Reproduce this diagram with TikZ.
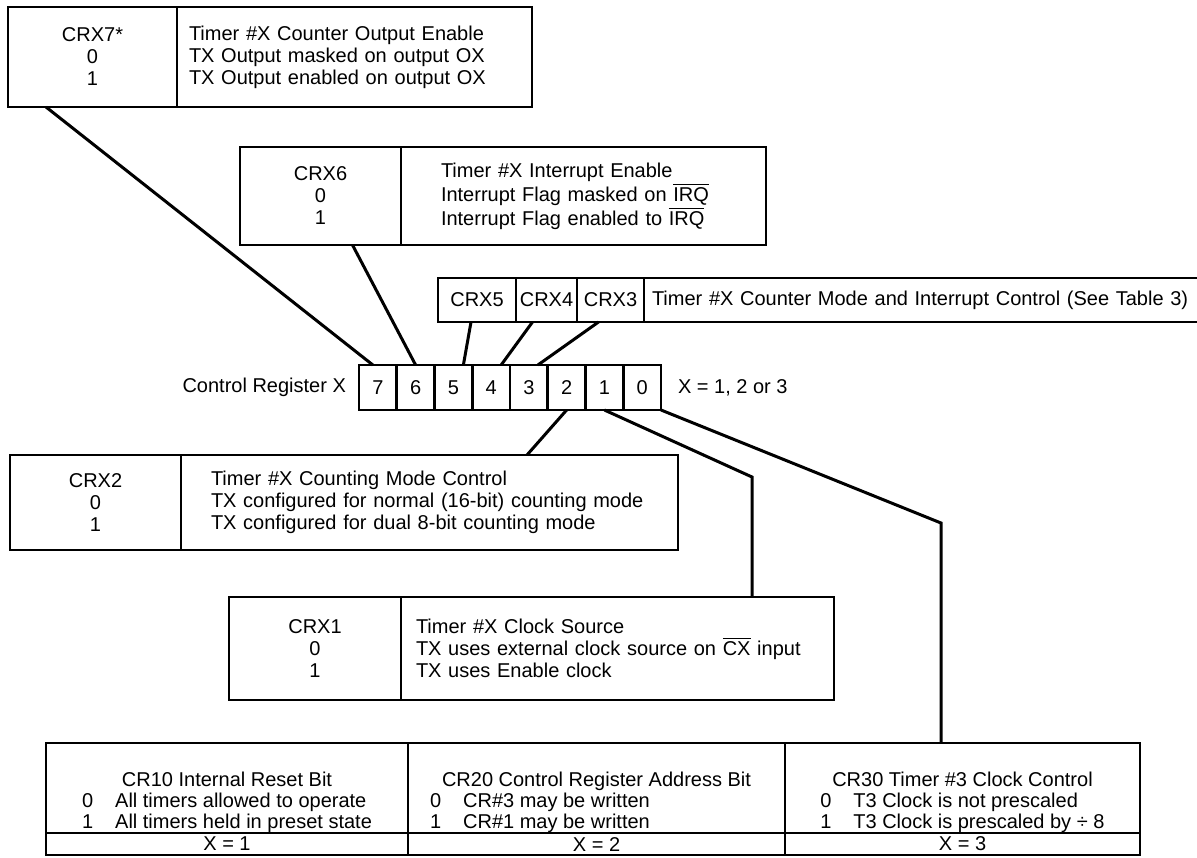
\documentclass[tikz,border=0pt]{standalone}
\usepackage{fontspec}
\setmainfont{Liberation Sans}
\usepackage{tikz}
\usetikzlibrary{positioning}
\renewcommand{\arraystretch}{0.95}

\begin{document}
\begin{tikzpicture}[x=0.5pt,y=-0.5pt,font=\fontsize{10}{11}\selectfont]
    \tikzstyle{keycell} = [draw,rectangle,line width=1.4pt,inner xsep=0pt,inner ysep=0pt,outer sep=0pt,align=center]
    \tikzstyle{desccell} = [draw,rectangle,line width=1.4pt,inner ysep=0pt,outer sep=0pt,align=left]
    \tikzstyle{regbit} = [draw,rectangle,line width=1.4pt,minimum width=18.875pt,minimum height=22.5pt,inner sep=0pt,outer sep=0pt]
    \tikzstyle{tabcol} = [draw,rectangle,line width=1.4pt,minimum height=45pt,inner sep=0pt,outer sep=0pt]
    \tikzstyle{xrow} = [draw,rectangle,line width=1.4pt,minimum height=11pt,inner sep=0pt,outer sep=0pt]
    \tikzstyle{conn} = [line width=1.5pt]
    \useasboundingbox (0,0) rectangle (1197,857);

    % bit 7 box
    \node[keycell,text width=84.5pt,minimum height=50pt,anchor=north west] (crx7key) at (8,7) {CRX7*\\0\\1};
    \node[desccell,text width=165.5pt,inner xsep=6pt,minimum height=50pt] (crx7desc) [right = 0pt of crx7key] {Timer \#X Counter Output Enable\\TX Output masked on output OX\\TX Output enabled on output OX};

    % bit 6 box
    \node[keycell,text width=80.5pt,minimum height=49pt,anchor=north west] (crx6key) at (240,147) {CRX6\\0\\1};
    \node[desccell,text width=142.5pt,inner xsep=20pt,minimum height=49pt] (crx6desc) [right = 0pt of crx6key] {Timer \#X Interrupt Enable\\Interrupt Flag masked on \ensuremath{\overline{\mbox{IRQ}}}\\Interrupt Flag enabled to \ensuremath{\overline{\mbox{IRQ}}}};

    % bits 5 4 3
    \node[keycell,text width=39pt,minimum height=22pt,anchor=north west] (crx5) at (438,278) {CRX5};
    \node[keycell,text width=30.5pt,minimum height=22pt] (crx4) [right = 0pt of crx5] {CRX4};
    \node[keycell,text width=33.5pt,minimum height=22pt] (crx3) [right = 0pt of crx4] {CRX3};
    \node[desccell,text width=272.5pt,inner xsep=4pt,minimum height=22pt] (crx543desc) [right = 0pt of crx3] {Timer \#X Counter Mode and Interrupt Control (See Table 3)};

    % the register
    \node[regbit,anchor=north west] (b7) at (359,365) {7};
    \node[regbit] (b6) [right = 0pt of b7] {6};
    \node[regbit] (b5) [right = 0pt of b6] {5};
    \node[regbit] (b4) [right = 0pt of b5] {4};
    \node[regbit] (b3) [right = 0pt of b4] {3};
    \node[regbit] (b2) [right = 0pt of b3] {2};
    \node[regbit] (b1) [right = 0pt of b2] {1};
    \node[regbit] (b0) [right = 0pt of b1] {0};
    \node (reglabel) [left = 3pt of b7] {Control Register X};
    \node (xnote) [right = 5pt of b0] {X = 1, 2 or 3};

    % bit 2 box
    \node[keycell,text width=85.5pt,minimum height=47.5pt,anchor=north west] (crx2key) at (10,455) {CRX2\\0\\1};
    \node[desccell,text width=218.5pt,inner xsep=15pt,minimum height=47.5pt] (crx2desc) [right = 0pt of crx2key] {Timer \#X Counting Mode Control\\TX configured for normal (16-bit) counting mode\\TX configured for dual 8-bit counting mode};

    % bit 1 box
    \node[keycell,text width=86pt,minimum height=51.5pt,anchor=north west] (crx1key) at (229,597) {CRX1\\0\\1};
    \node[desccell,text width=201.5pt,inner xsep=7.5pt,minimum height=51.5pt] (crx1desc) [right = 0pt of crx1key] {Timer \#X Clock Source\\TX uses external clock source on \ensuremath{\overline{\mbox{CX}}} input\\TX uses Enable clock};

    % bit 0 table
    \node[tabcol,minimum width=181pt,anchor=north west] (tab1) at (46,743) {};
    \node[tabcol,minimum width=188.5pt] (tab2) [right = 0pt of tab1] {};
    \node[tabcol,minimum width=177.5pt] (tab3) [right = 0pt of tab2] {};
    \node[xrow,minimum width=181pt] (xrow1) [below = 0pt of tab1] {X = 1};
    \node[xrow,minimum width=188.5pt] (xrow2) [below = 0pt of tab2] {X = 2};
    \node[xrow,minimum width=177.5pt] (xrow3) [below = 0pt of tab3] {X = 3};
    \node[anchor=south,inner sep=0pt] (cr10) at ([yshift=-1pt]tab1.south) {\begin{tabular}{@{}l@{\hspace{11pt}}l@{}}\multicolumn{2}{c}{CR10 Internal Reset Bit}\\0&All timers allowed to operate\\1&All timers held in preset state\end{tabular}};
    \node[anchor=south,inner sep=0pt] (cr20) at ([yshift=-1pt]tab2.south) {\begin{tabular}{@{}l@{\hspace{11pt}}l@{}}\multicolumn{2}{c}{CR20 Control Register Address Bit}\\0&CR\#3 may be written\\1&CR\#1 may be written\end{tabular}};
    \node[anchor=south,inner sep=0pt] (cr30) at ([yshift=-1pt]tab3.south) {\begin{tabular}{@{}l@{\hspace{11pt}}l@{}}\multicolumn{2}{c}{CR30 Timer \#3 Clock Control}\\0&T3 Clock is not prescaled\\1&T3 Clock is prescaled by ÷ 8\end{tabular}};

    % connectors
    \coordinate (bend1) at (752,477);
    \coordinate (bend0) at (941,523);
    \draw[conn] ([xshift=19pt]crx7key.south west) -- ([xshift=-2.5pt]b7.north);
    \draw[conn] ([xshift=16pt]crx6key.south) -- (b6.north);
    \draw[conn] ([xshift=-3pt]crx5.south) -- ([xshift=5pt]b5.north);
    \draw[conn] ([xshift=-7pt]crx4.south) -- ([xshift=5pt]b4.north);
    \draw[conn] ([xshift=-6pt]crx3.south) -- ([xshift=4.5pt]b3.north);
    \draw[conn] (b2.south) -- ([xshift=173pt]crx2desc.north west);
    \draw[conn] (b1.south) -- (bend1) -- (bend1 |- crx1desc.north);
    \draw[conn] (b0.south east) -- (bend0) -- (bend0 |- tab3.north);
\end{tikzpicture}
\end{document}
